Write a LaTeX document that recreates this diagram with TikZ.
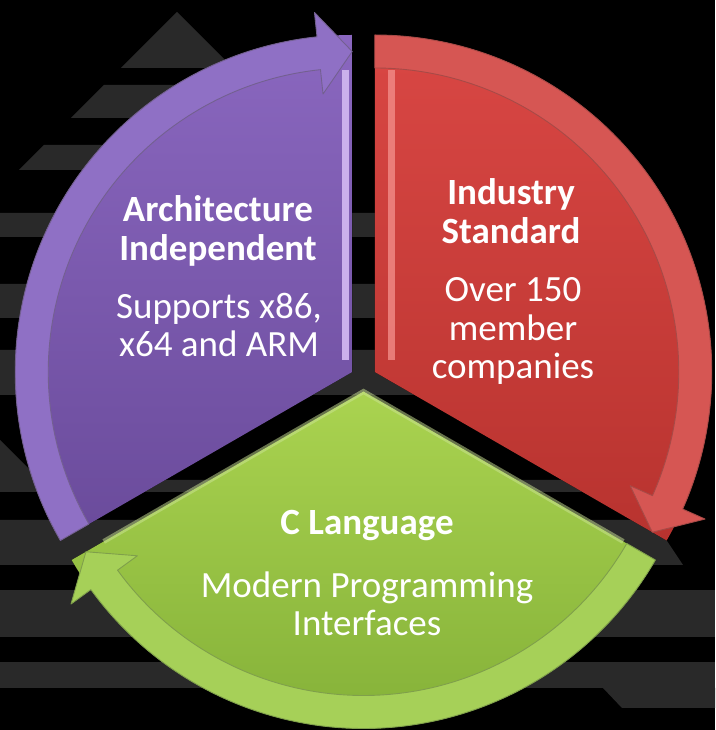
\documentclass[tikz,border=0pt]{standalone}
\usepackage{fontspec}
\setmainfont{Carlito}

\definecolor{stripegrey}{HTML}{292929}
\definecolor{purpleA}{HTML}{8A67BF}
\definecolor{purpleB}{HTML}{6A4B9B}
\definecolor{purpleBand}{HTML}{8F70C5}
\definecolor{purpleHi}{HTML}{CBB0EC}
\definecolor{redA}{HTML}{D94744}
\definecolor{redB}{HTML}{B8332F}
\definecolor{redBand}{HTML}{D65653}
\definecolor{redHi}{HTML}{F28C88}
\definecolor{greenA}{HTML}{AAD350}
\definecolor{greenB}{HTML}{7FAC35}
\definecolor{greenBand}{HTML}{A6D058}

\begin{document}
\begin{tikzpicture}[x=1pt,y=1pt,
  stripe/.style={fill=stripegrey},
  bandedge/.style={draw=#1, line width=0.9pt, line join=round},
  title/.style={text=white, align=center, font={\fontsize{37}{38.5}\selectfont\bfseries}},
  body/.style={text=white, align=center, font={\fontsize{37}{38.5}\selectfont}}]

% canvas
\fill[black] (0,0) rectangle (715,730);
\useasboundingbox (0,0) rectangle (715,730);

% striped arrows in the background (drawn with y pointing down)
\begin{scope}[yshift=730pt, yscale=-1]
  \fill[stripe] (177,12) -- (233,68) -- (121,68) -- cycle;
  \fill[stripe] (104,85) -- (250,85) -- (283,118) -- (71,118) -- cycle;
  \fill[stripe] (44,145) -- (310,145) -- (335,170) -- (19,170) -- cycle;
  \fill[stripe] (0,213) -- (378,213) -- (402,237) -- (0,237) -- cycle;
  \fill[stripe] (0,284) -- (450,284) -- (482,318) -- (0,318) -- cycle;
  \fill[stripe] (0,350) -- (515,350) -- (560,395) -- (0,395) -- cycle;
  \fill[stripe] (0,440) -- (40,480) -- (625,480) -- (637,492) -- (0,492) -- cycle;
  \fill[stripe] (0,520) -- (653,520) -- (683,565) -- (0,565) -- cycle;
  \fill[stripe] (0,590) -- (715,590) -- (715,637) -- (0,637) -- cycle;
  \fill[stripe] (0,662) -- (715,662) -- (715,688) -- (0,688) -- cycle;
  \fill[stripe] (603,688) -- (715,688) -- (715,708) -- (622,708) -- cycle;
\end{scope}

% apexes of the three exploded sectors
\coordinate (P) at (352.24,358);
\coordinate (Q) at (374.76,358);
\coordinate (G) at (363.5,338.5);

% ---------- purple sector ----------
\fill[top color=purpleA, bottom color=purpleB]
  (P) -- ++(210:337) arc[start angle=210, end angle=90, radius=337] -- cycle;
\begin{scope}[shift={(P)}]
  \fill[purpleHi] (-10,12) rectangle (-3,302);
  \fill[purpleBand, bandedge=purpleB!60!gray]
    (210:337) arc[start angle=210, end angle=96, radius=337]
    -- (96:361.5) -- (90:320.5) -- (96:279.5) -- (96:304)
    arc[start angle=96, end angle=210, radius=304] -- cycle;
\end{scope}

% ---------- red sector ----------
\fill[top color=redA, bottom color=redB]
  (Q) -- ++(330:337) arc[start angle=-30, end angle=90, radius=337] -- cycle;
\begin{scope}[shift={(Q)}]
  \fill[redHi, opacity=0.8] (13,12) rectangle (20,302);
  \fill[redBand, bandedge=redB!70!gray]
    (90:337) arc[start angle=90, end angle=-24, radius=337]
    -- (-24:361.5) -- (-30:320.5) -- (-24:279.5) -- (-24:304)
    arc[start angle=-24, end angle=90, radius=304] -- cycle;
\end{scope}

% ---------- green sector ----------
\fill[top color=greenA, bottom color=greenB]
  (G) -- ++(210:337) arc[start angle=210, end angle=330, radius=337] -- cycle;
\begin{scope}[shift={(G)}]
  \draw[greenA!60!white, line width=5pt, opacity=0.5]
    (210:300) -- (0,0) -- (330:300);
  \fill[greenBand, bandedge=greenB!70!gray]
    (330:337) arc[start angle=330, end angle=216, radius=337]
    -- (216:361.5) -- (210:320.5) -- (216:279.5) -- (216:304)
    arc[start angle=216, end angle=330, radius=304] -- cycle;
\end{scope}

% ---------- labels ----------
\node[title] (arch-title) at (218,499) {Architecture\\Independent};
\node[body] (arch-body) at (219,405) {Supports x86,\\x64 and ARM};

\node[title] (std-title) at (511,519) {Industry\\Standard};
\node[body] (std-body) at (513,399) {Over 150\\member\\companies};

\node[title] (c-title) at (367,204) {C Language};
\node[body] (c-body) at (367,126) {Modern Programming\\Interfaces};

\end{tikzpicture}
\end{document}
